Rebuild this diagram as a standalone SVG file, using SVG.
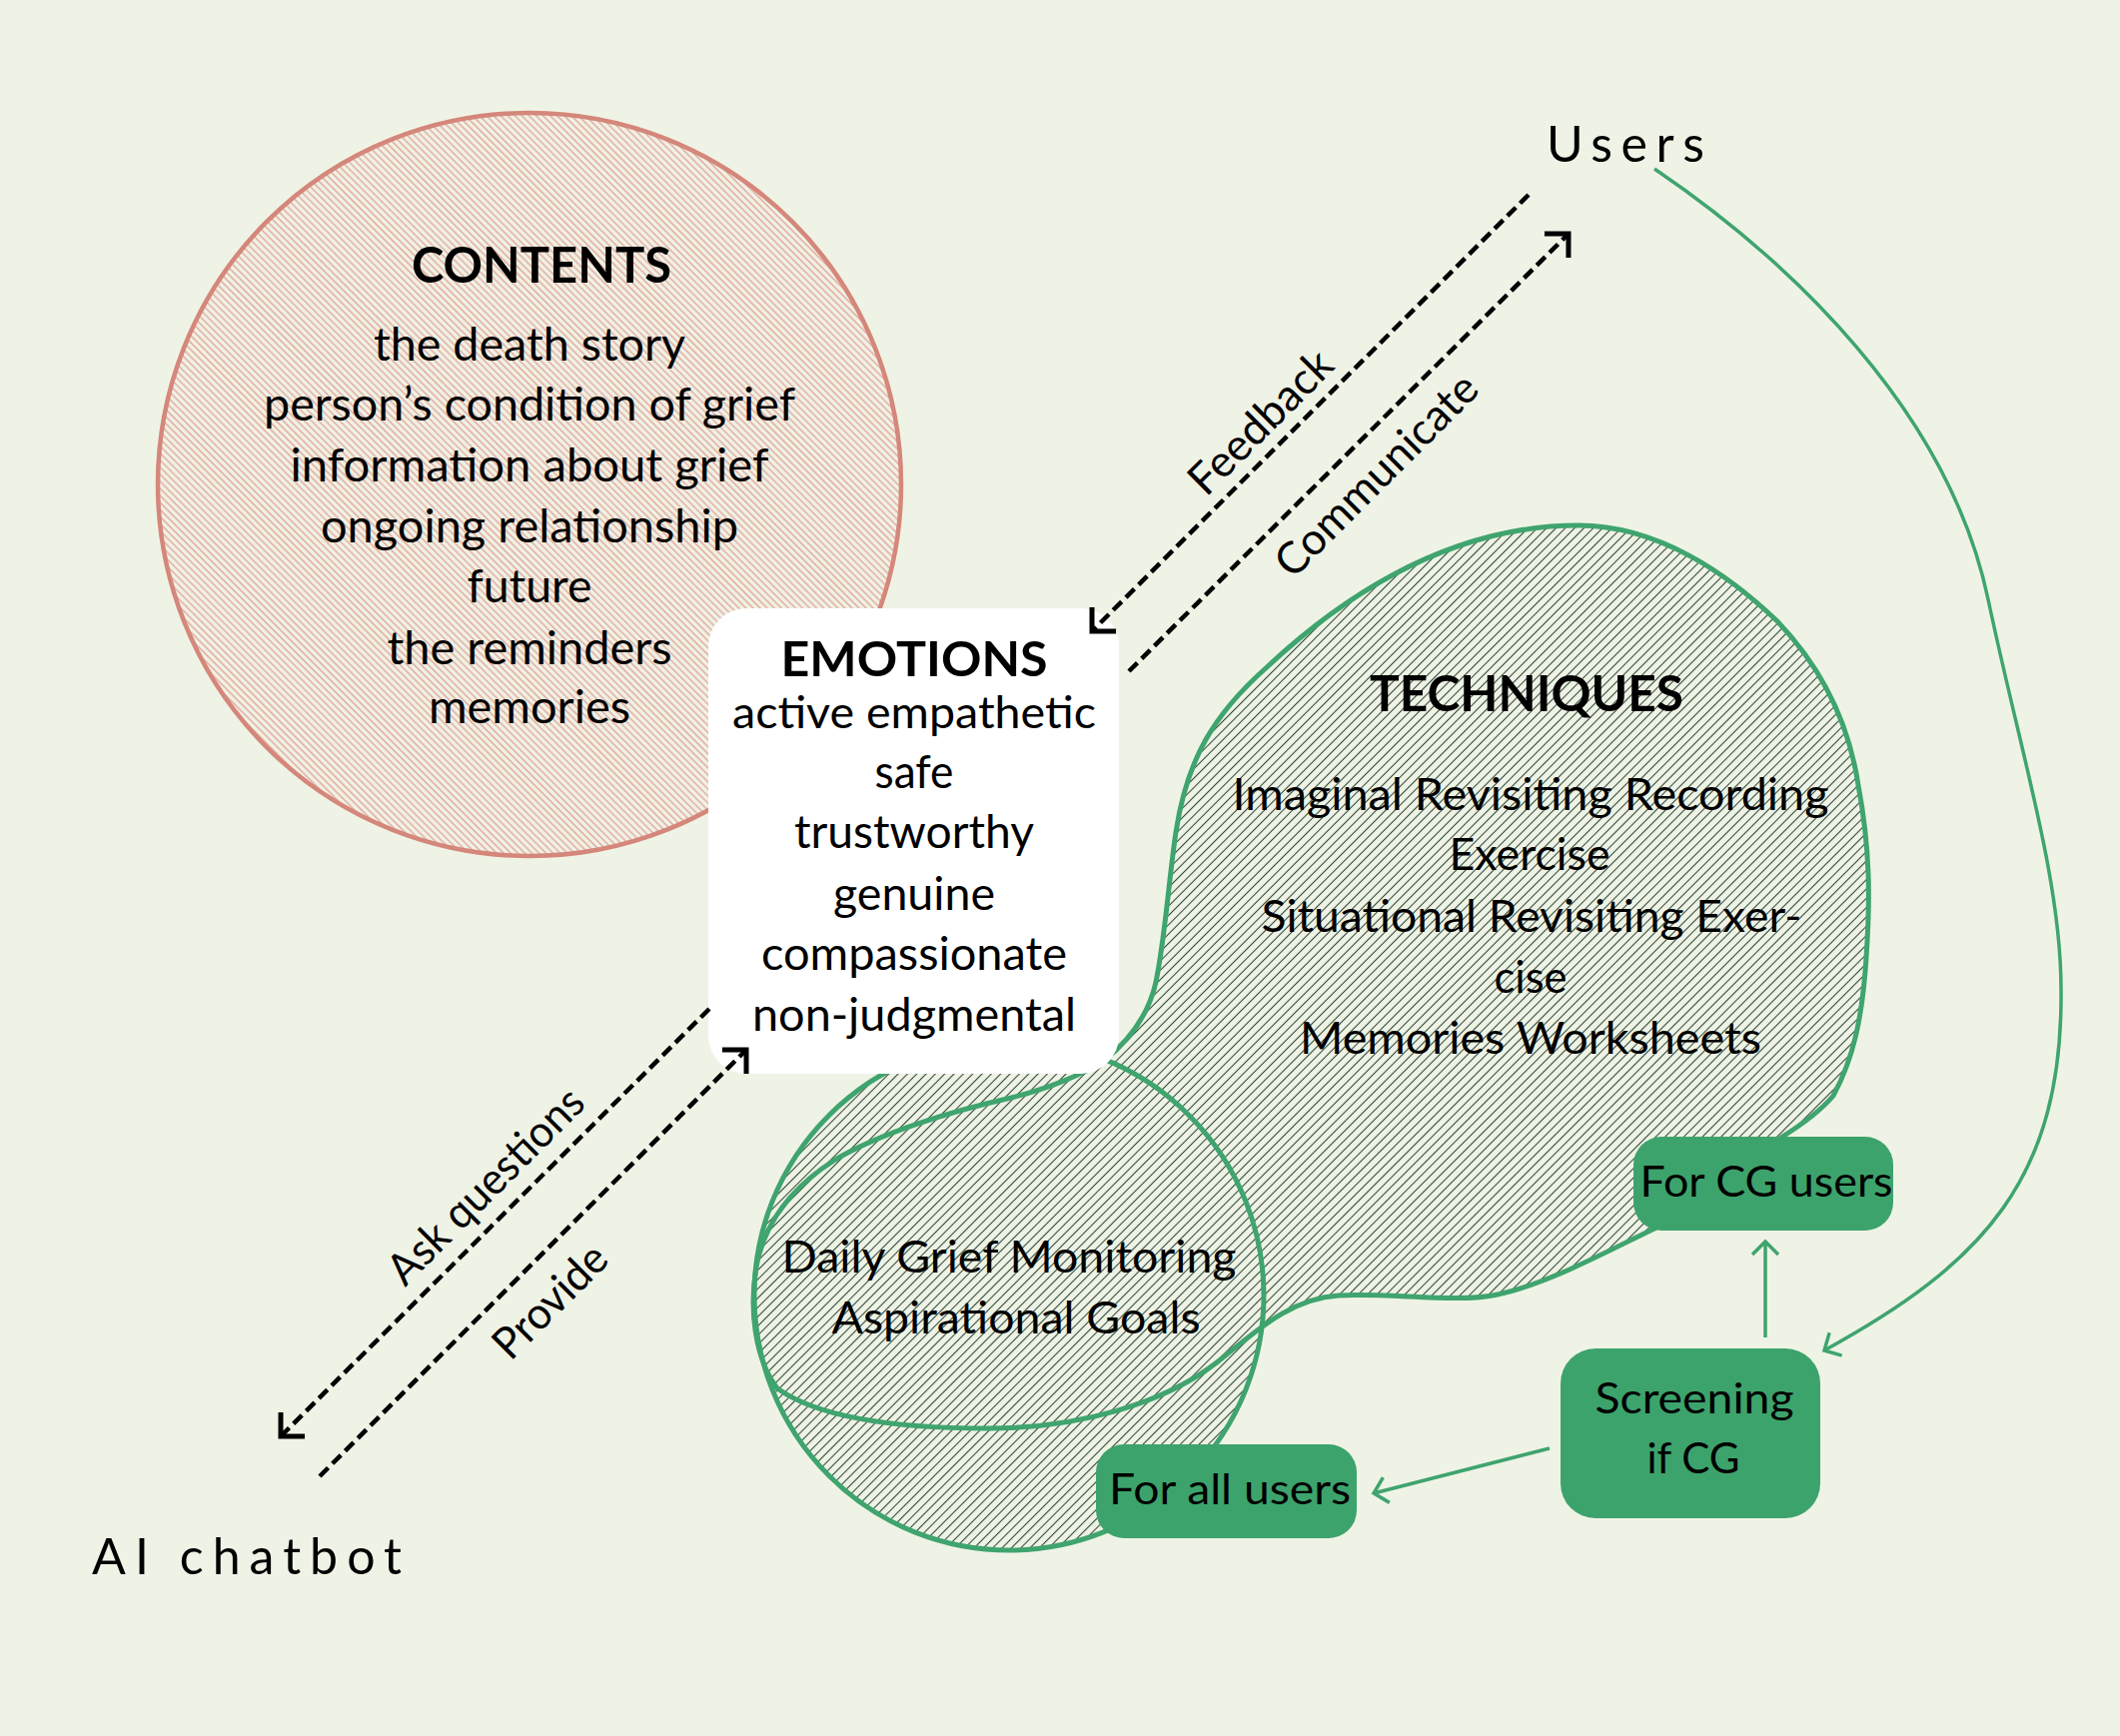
<svg xmlns="http://www.w3.org/2000/svg" width="2122" height="1738" viewBox="0 0 2122 1738">
<style>
.t{font-family:Lato,"Open Sans","Liberation Sans",sans-serif;fill:#000}
.b{font-weight:bold}
.c{text-anchor:middle}
.dash{fill:none;stroke:#000;stroke-width:4.5;stroke-dasharray:12 6}
.gl{fill:none;stroke:#3fa46e;stroke-width:3.5}
.gbox{fill:#3da36c}
.gout{fill:none;stroke:#3fa46e;stroke-width:5}
</style>
<defs>
<pattern id="hatchPink" patternUnits="userSpaceOnUse" width="5" height="10" patternTransform="rotate(-45)"><line x1="2.5" y1="0" x2="2.5" y2="10" stroke="#e2a398" stroke-width="1.4"/></pattern>
<pattern id="hatchGreen" patternUnits="userSpaceOnUse" width="6.6" height="10" patternTransform="rotate(45)"><line x1="3.3" y1="0" x2="3.3" y2="10" stroke="#2a4434" stroke-width="1.05"/></pattern>
<marker id="arrB" markerUnits="userSpaceOnUse" orient="auto" viewBox="-25 -25 30 50" markerWidth="30" markerHeight="50" refX="0" refY="0"><path d="M-17,-17 L0,0 L-17,17" fill="none" stroke="#000" stroke-width="5"/></marker>
<marker id="arrG" markerUnits="userSpaceOnUse" orient="auto" viewBox="-20 -20 25 40" markerWidth="25" markerHeight="40" refX="0" refY="0"><path d="M-13,-13 L0,0 L-13,13" fill="none" stroke="#3fa46e" stroke-width="3.5"/></marker>
<path id="blob" d="M1580,526 C1660,526 1730,575 1779,622 C1820,665 1850,720 1860,786 C1872,850 1872,900 1868,959 C1864,1020 1855,1060 1835,1097 C1820,1115 1800,1128 1784,1138 C1740,1170 1690,1215 1656,1230 C1610,1252 1550,1285 1499,1296 C1460,1305 1390,1294 1340,1297 C1290,1300 1255,1335 1218,1364 C1165,1405 1080,1430 989,1430 C900,1430 820,1420 778,1390 C755,1360 750,1310 757,1268 C765,1225 790,1190 836,1161 C880,1135 950,1113 1008,1100 C1050,1090 1085,1075 1105,1062 C1130,1042 1150,1015 1157,983 C1166,940 1170,880 1177,833 C1188,760 1215,715 1268,668 C1330,610 1440,526 1580,526 Z"/>
</defs>
<rect x="0" y="0" width="2122" height="1738" fill="#eff3e6"/>

<g id="contents">
<circle cx="530" cy="485" r="372" fill="url(#hatchPink)" stroke="#d4877a" stroke-width="4.5"/>
<text class="t b c" x="542" y="283" font-size="50" textLength="260" lengthAdjust="spacingAndGlyphs">CONTENTS</text>
<text class="t c" x="530" y="361" font-size="46" textLength="312" lengthAdjust="spacingAndGlyphs">the death story</text>
<text class="t c" x="530" y="421" font-size="46" textLength="532" lengthAdjust="spacingAndGlyphs">person’s condition of grief</text>
<text class="t c" x="530" y="482" font-size="46" textLength="479" lengthAdjust="spacingAndGlyphs">information about grief</text>
<text class="t c" x="530" y="543" font-size="46" textLength="418" lengthAdjust="spacingAndGlyphs">ongoing relationship</text>
<text class="t c" x="530" y="603" font-size="46" textLength="125" lengthAdjust="spacingAndGlyphs">future</text>
<text class="t c" x="530" y="665" font-size="46" textLength="285" lengthAdjust="spacingAndGlyphs">the reminders</text>
<text class="t c" x="530" y="724" font-size="46" textLength="202" lengthAdjust="spacingAndGlyphs">memories</text>
</g>

<g id="techniques-fill">
<path fill="url(#hatchGreen)" fill-rule="nonzero" d="M1580,526 C1660,526 1730,575 1779,622 C1820,665 1850,720 1860,786 C1872,850 1872,900 1868,959 C1864,1020 1855,1060 1835,1097 C1820,1115 1800,1128 1784,1138 C1740,1170 1690,1215 1656,1230 C1610,1252 1550,1285 1499,1296 C1460,1305 1390,1294 1340,1297 C1290,1300 1255,1335 1218,1364 C1165,1405 1080,1430 989,1430 C900,1430 820,1420 778,1390 C755,1360 750,1310 757,1268 C765,1225 790,1190 836,1161 C880,1135 950,1113 1008,1100 C1050,1090 1085,1075 1105,1062 C1130,1042 1150,1015 1157,983 C1166,940 1170,880 1177,833 C1188,760 1215,715 1268,668 C1330,610 1440,526 1580,526 Z M755,1297 A255,255 0 1,1 1265,1297 A255,255 0 1,1 755,1297 Z"/>
</g>
<g id="daily-circle">
<circle cx="1010" cy="1297" r="255" class="gout" stroke-width="4.5"/>
<text class="t c" x="1010" y="1274" font-size="44" textLength="455" lengthAdjust="spacingAndGlyphs">Daily Grief Monitoring</text>
<text class="t c" x="1017" y="1335" font-size="44" textLength="369" lengthAdjust="spacingAndGlyphs">Aspirational Goals</text>
</g>
<g id="techniques">
<use href="#blob" class="gout"/>
<text class="t b c" x="1528" y="712" font-size="50" textLength="314" lengthAdjust="spacingAndGlyphs">TECHNIQUES</text>
<text class="t c" x="1532" y="811" font-size="44" textLength="597" lengthAdjust="spacingAndGlyphs">Imaginal Revisiting Recording</text>
<text class="t c" x="1531" y="871" font-size="44" textLength="161" lengthAdjust="spacingAndGlyphs">Exercise</text>
<text class="t c" x="1533" y="933" font-size="44" textLength="541" lengthAdjust="spacingAndGlyphs">Situational Revisiting Exer-</text>
<text class="t c" x="1532" y="994" font-size="44" textLength="73" lengthAdjust="spacingAndGlyphs">cise</text>
<text class="t c" x="1532" y="1055" font-size="44" textLength="462" lengthAdjust="spacingAndGlyphs">Memories Worksheets</text>
</g>

<g id="emotions">
<rect x="709" y="609" width="411" height="466" rx="38" fill="#ffffff"/>
<text class="t b c" x="915" y="677" font-size="48" textLength="267" lengthAdjust="spacingAndGlyphs">EMOTIONS</text>
<text class="t c" x="915" y="729" font-size="45" textLength="364" lengthAdjust="spacingAndGlyphs">active empathetic</text>
<text class="t c" x="915" y="789" font-size="46" textLength="79" lengthAdjust="spacingAndGlyphs">safe</text>
<text class="t c" x="915" y="849" font-size="46" textLength="240" lengthAdjust="spacingAndGlyphs">trustworthy</text>
<text class="t c" x="915" y="911" font-size="46" textLength="162" lengthAdjust="spacingAndGlyphs">genuine</text>
<text class="t c" x="915" y="971" font-size="46" textLength="306" lengthAdjust="spacingAndGlyphs">compassionate</text>
<text class="t c" x="915" y="1032" font-size="46" textLength="324" lengthAdjust="spacingAndGlyphs">non-judgmental</text>
</g>

<g id="for-cg-users">
<rect x="1635" y="1138" width="260" height="94" rx="28" class="gbox"/>
<text class="t c" x="1768" y="1198" font-size="42" textLength="253" lengthAdjust="spacingAndGlyphs">For CG users</text>
</g>
<g id="screening">
<rect x="1562" y="1350" width="260" height="170" rx="35" class="gbox"/>
<text class="t c" x="1696" y="1415" font-size="42" textLength="199" lengthAdjust="spacingAndGlyphs">Screening</text>
<text class="t c" x="1695" y="1475" font-size="42" textLength="93" lengthAdjust="spacingAndGlyphs">if CG</text>
</g>
<g id="for-all-users">
<rect x="1097" y="1446" width="261" height="94" rx="28" class="gbox"/>
<text class="t c" x="1231" y="1506" font-size="42" textLength="242" lengthAdjust="spacingAndGlyphs">For all users</text>
</g>

<g id="users">
<text class="t" x="1548" y="162" font-size="50" textLength="158" lengthAdjust="spacing">Users</text>
</g>
<g id="ai-chatbot">
<text class="t" x="92" y="1576" font-size="50" textLength="310" lengthAdjust="spacing">AI chatbot</text>
</g>

<g id="connectors">
<path class="dash" d="M1530,195 L1093,632" marker-end="url(#arrB)"/>
<path class="dash" d="M1130,672 L1570,234" marker-end="url(#arrB)"/>
<path class="dash" d="M710,1010 L281,1438" marker-end="url(#arrB)"/>
<path class="dash" d="M320,1478 L747,1051" marker-end="url(#arrB)"/>
<path class="gl" stroke-width="3" d="M1656,169 C1790,260 1950,410 1990,600 C2022,752 2063,880 2063,990 C2065,1180 1985,1265 1826,1352" marker-end="url(#arrG)"/>
<path class="gl" d="M1767,1339 L1767,1243" marker-end="url(#arrG)"/>
<path class="gl" d="M1551,1450 L1375,1495" marker-end="url(#arrG)"/>
<text class="t c" transform="translate(1261,422) rotate(-45)" y="16" font-size="44" textLength="184" lengthAdjust="spacingAndGlyphs">Feedback</text>
<text class="t c" transform="translate(1377,475) rotate(-45)" y="16" font-size="44" textLength="267" lengthAdjust="spacingAndGlyphs">Communicate</text>
<text class="t c" transform="translate(489,1190) rotate(-45)" y="11" font-size="44" textLength="258" lengthAdjust="spacingAndGlyphs">Ask questions</text>
<text class="t c" transform="translate(550,1302) rotate(-45)" y="16" font-size="44" textLength="142" lengthAdjust="spacingAndGlyphs">Provide</text>
</g>
</svg>
